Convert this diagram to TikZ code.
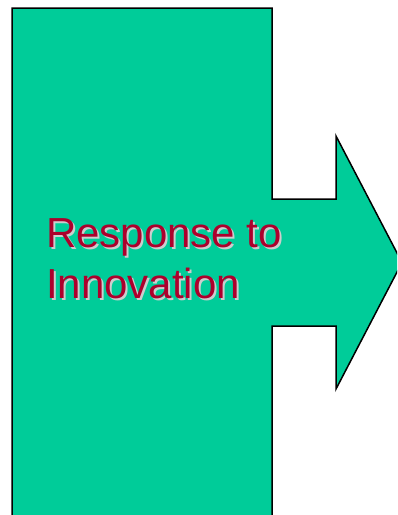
\documentclass[tikz,border=0pt]{standalone}
\usepackage{fontspec}
\setmainfont{Liberation Sans}
\definecolor{arrowgreen}{RGB}{0,204,153}
\definecolor{labelred}{RGB}{172,0,44}
\definecolor{shadowgray}{RGB}{205,205,205}
\tikzset{
  headline/.style={anchor=base west,inner sep=0pt,font=\fontsize{42}{50}\selectfont},
}
\begin{document}
\begin{tikzpicture}[x=1pt,y=-1pt]
    \useasboundingbox (0,0) rectangle (397,515);
    \clip (0,0) rectangle (397,515);
    % block with the arrow coming out of its right side
    \filldraw[fill=arrowgreen,line width=1.5pt,line join=miter]
      (12,8) -- (272,8) -- (272,199) -- (336,199) -- (336,136) -- (402,262.5)
      -- (336,389) -- (336,326) -- (272,326) -- (272,530) -- (12,530) -- cycle;
    % shadowed label
    \node[headline,text=shadowgray] (respshadow) at (48,249) {Response to};
    \node[headline,text=shadowgray] (innovshadow) at (48,300) {Innovation};
    \node[headline,text=labelred] (resp) at (46,247) {Response to};
    \node[headline,text=labelred] (innov) at (46,298) {Innovation};
  \end{tikzpicture}
\end{document}
